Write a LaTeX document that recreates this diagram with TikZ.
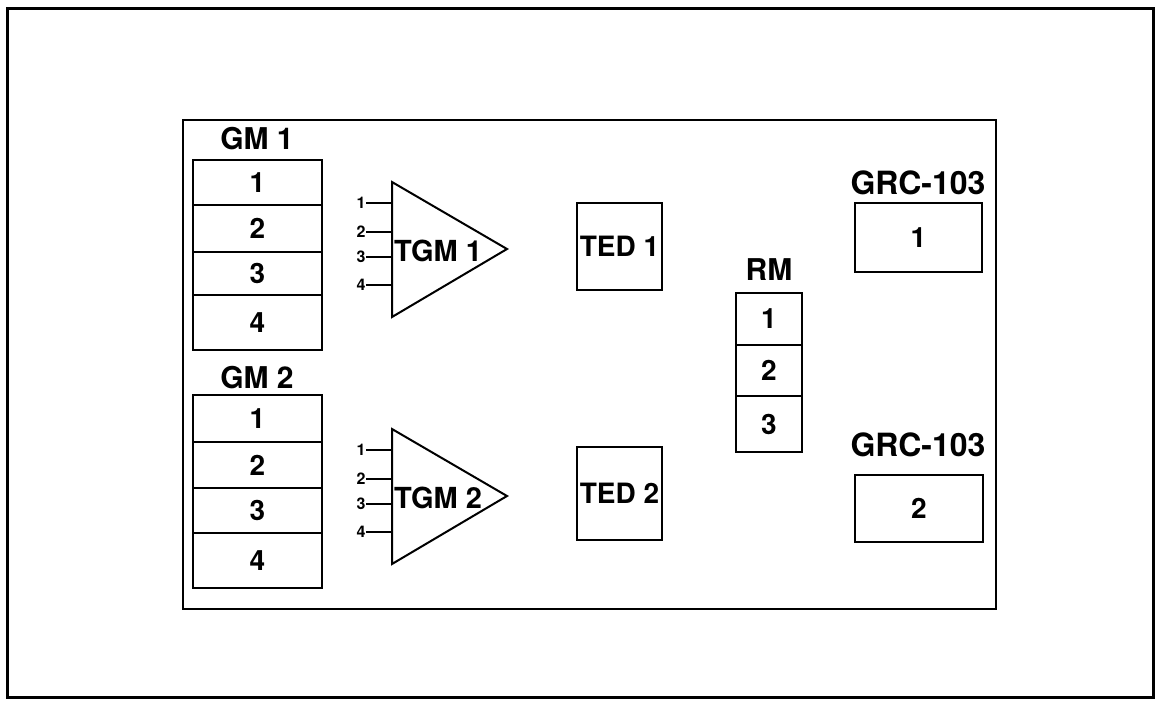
\documentclass[tikz,border=0pt]{standalone}
\usepackage{fontspec}
\setmainfont{TeX Gyre Heros}
\begin{document}
\begin{tikzpicture}[x=1pt,y=-1pt,line width=2pt,
  every node/.style={font=\fontsize{28}{28}\selectfont\bfseries},
  cell/.style={draw,line width=1.8pt,inner sep=0pt},
  title/.style={font=\fontsize{30}{30}\selectfont\bfseries},
  pinnum/.style={font=\fontsize{16}{16}\selectfont\bfseries,inner sep=0pt}]
  \useasboundingbox (0,0) rectangle (1160,705);
  \draw[line width=3pt] (7,8) rectangle (1153,697);
  \draw (183,120) rectangle (996,609);
  % generator modules
  \node[title] (gm1) at (257,139) {GM 1};
  \foreach \n/\a/\b in {1/160/205,2/205/252,3/252/295,4/295/350}
    \node[cell,minimum width=129,minimum height=\b-\a] (gm1r\n) at (257.5,{(\a+\b)/2}) {\n};
  \node[title] (gm2) at (257,378) {GM 2};
  \foreach \n/\a/\b in {1/395/442,2/442/488,3/488/533,4/533/588}
    \node[cell,minimum width=129,minimum height=\b-\a] (gm2r\n) at (257.5,{(\a+\b)/2}) {\n};
  % amplifiers with their four inputs
  \foreach \k/\d in {1/0,2/247}{
    \begin{scope}[shift={(0,\d)}]
      \draw (392,182) coordinate (tgm\k a) -- (507,249) coordinate (tgm\k b)
        -- (392,317) coordinate (tgm\k c) -- cycle;
      \node[anchor=west,inner sep=1pt,font=\fontsize{29}{29}\selectfont\bfseries] (tgm\k) at (392,251) {TGM \k};
      \foreach \p/\y in {1/203,2/232,3/257,4/285}{
        \node[pinnum] (tgm\k p\p) at (361,\y) {\p};
        \coordinate (tgm\k i\p) at (392,\y);
        \draw[line width=1.5pt] (tgm\k p\p.east) -- (tgm\k i\p);
      }
    \end{scope}
  }
  \node[cell,minimum width=85,minimum height=87,font=\fontsize{28}{28}\selectfont\bfseries] (ted1) at (619.5,246.5) {TED 1};
  \node[cell,minimum width=85,minimum height=93,font=\fontsize{28}{28}\selectfont\bfseries] (ted2) at (619.5,493.5) {TED 2};
  % relay module
  \node[title] (rm) at (769,270) {RM};
  \foreach \n/\a/\b in {1/293/345,2/345/396,3/396/452}
    \node[cell,minimum width=66,minimum height=\b-\a] (rm\n) at (769,{(\a+\b)/2}) {\n};
  % radios
  \node[title,font=\fontsize{32}{32}\selectfont\bfseries] (grc1) at (918,183) {GRC-103};
  \node[cell,minimum width=127,minimum height=69] (radio1) at (918.5,237.5) {1};
  \node[title,font=\fontsize{32}{32}\selectfont\bfseries] (grc2) at (918,445) {GRC-103};
  \node[cell,minimum width=128,minimum height=67] (radio2) at (919,508.5) {2};
\end{tikzpicture}
\end{document}
